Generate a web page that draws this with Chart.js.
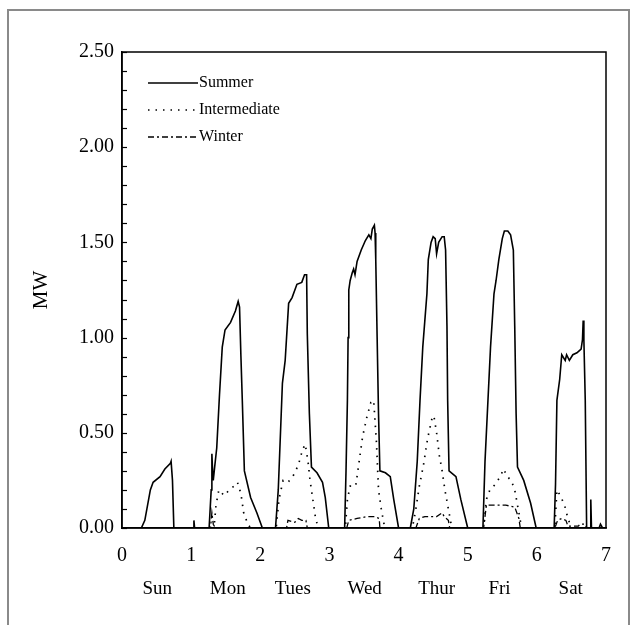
<!DOCTYPE html>
<html>
<head>
<meta charset="utf-8">
<script src="https://cdn.jsdelivr.net/npm/chart.js@4.4.1/dist/chart.umd.min.js"></script>
<style>
html,body{margin:0;padding:0;background:#fff;}
canvas{display:block;}
</style>
</head>
<body>
<canvas id="c" width="632" height="625"></canvas>
<script>
// ---- data (x in days from Sunday 0:00, y in MW) ----
const yTickLabels = ["0.00", "0.50", "1.00", "1.50", "2.00", "2.50"];
const xTickLabels = ["0", "1", "2", "3", "4", "5", "6", "7"];
const dayNames = ["Sun", "Mon", "Tues", "Wed", "Thur", "Fri", "Sat"];
const dayPos = [0.51, 1.53, 2.47, 3.51, 4.55, 5.46, 6.49];
const seriesNames = ["Summer", "Intermediate", "Winter"];

const summerX = [0, 0.28, 0.33, 0.41, 0.45, 0.55, 0.62, 0.70, 0.71, 0.73, 0.75,
  1.03, 1.04, 1.05,
  1.26, 1.29, 1.30, 1.31, 1.32, 1.34, 1.37, 1.41, 1.45, 1.49, 1.57, 1.64, 1.68, 1.70, 1.72, 1.74, 1.77, 1.86, 1.95, 2.03,
  2.22, 2.26, 2.32, 2.36, 2.41, 2.46, 2.53, 2.60, 2.64, 2.67, 2.68, 2.71, 2.74, 2.82, 2.90, 2.94, 2.99,
  3.22, 3.24, 3.26, 3.27, 3.28, 3.30, 3.33, 3.35, 3.37, 3.40, 3.46, 3.52, 3.57, 3.60, 3.62, 3.65, 3.66, 3.67, 3.69, 3.71, 3.73, 3.81, 3.88, 3.93, 4.00,
  4.17, 4.22, 4.27, 4.31, 4.35, 4.41, 4.43, 4.47, 4.50, 4.53, 4.55, 4.58, 4.63, 4.66, 4.68, 4.70, 4.71, 4.73, 4.83, 4.90, 5.00,
  5.22, 5.25, 5.29, 5.33, 5.38, 5.41, 5.45, 5.50, 5.53, 5.58, 5.62, 5.66, 5.68, 5.70, 5.72, 5.81, 5.91, 5.99,
  6.25, 6.27, 6.29, 6.33, 6.36, 6.41, 6.43, 6.47, 6.52, 6.58, 6.64, 6.66, 6.67, 6.68, 6.70, 6.72, 6.77, 6.78, 6.79, 6.90, 6.92, 6.95, 7.00];
const summerY = [0, 0, 0.04, 0.20, 0.24, 0.27, 0.31, 0.34, 0.35, 0.25, 0,
  0, 0.04, 0,
  0, 0.20, 0.39, 0.30, 0.25, 0.32, 0.42, 0.70, 0.95, 1.04, 1.08, 1.14, 1.19, 1.16, 0.90, 0.67, 0.30, 0.16, 0.08, 0,
  0, 0.20, 0.76, 0.88, 1.18, 1.21, 1.28, 1.29, 1.33, 1.33, 1.02, 0.60, 0.32, 0.29, 0.24, 0.16, 0,
  0, 0.30, 0.67, 1.00, 1.25, 1.30, 1.34, 1.36, 1.33, 1.40, 1.46, 1.51, 1.54, 1.52, 1.57, 1.59, 1.55, 1.41, 1.00, 0.60, 0.30, 0.29, 0.27, 0.15, 0,
  0, 0.10, 0.35, 0.67, 0.95, 1.23, 1.41, 1.50, 1.53, 1.52, 1.44, 1.50, 1.53, 1.53, 1.46, 1.06, 0.67, 0.30, 0.27, 0.15, 0,
  0, 0.35, 0.65, 0.95, 1.23, 1.30, 1.41, 1.52, 1.56, 1.56, 1.54, 1.46, 1.06, 0.60, 0.32, 0.25, 0.13, 0,
  0, 0.23, 0.67, 0.78, 0.91, 0.88, 0.91, 0.88, 0.91, 0.92, 0.94, 0.99, 1.09, 0.99, 0.67, 0, 0, 0.15, 0, 0, 0.02, 0, 0];

const interX = [0, 1.33, 1.36, 1.40, 1.48, 1.55, 1.62, 1.67, 1.72, 1.76, 1.82, 1.86,
  2.23, 2.27, 2.33, 2.40, 2.47, 2.55, 2.61, 2.65, 2.69, 2.72, 2.76, 2.80, 2.84,
  3.23, 3.26, 3.30, 3.38, 3.43, 3.48, 3.54, 3.60, 3.64, 3.68, 3.71, 3.75, 3.80,
  4.20, 4.25, 4.30, 4.36, 4.42, 4.48, 4.51, 4.55, 4.59, 4.63, 4.67, 4.72, 4.77,
  5.23, 5.27, 5.32, 5.40, 5.47, 5.52, 5.57, 5.63, 5.68, 5.73, 5.78,
  6.26, 6.29, 6.34, 6.40, 6.45, 6.50, 7.00];
const interY = [0, 0, 0.12, 0.20, 0.17, 0.20, 0.22, 0.24, 0.18, 0.08, 0.02, 0,
  0, 0.15, 0.25, 0.24, 0.27, 0.33, 0.41, 0.44, 0.35, 0.25, 0.15, 0.05, 0,
  0, 0.15, 0.22, 0.22, 0.35, 0.48, 0.58, 0.66, 0.67, 0.45, 0.20, 0.10, 0,
  0, 0.10, 0.22, 0.33, 0.47, 0.57, 0.59, 0.50, 0.38, 0.30, 0.20, 0.10, 0,
  0, 0.15, 0.20, 0.23, 0.27, 0.31, 0.27, 0.25, 0.20, 0.10, 0,
  0, 0.20, 0.17, 0.12, 0.05, 0, 0];

const winterX = [0, 1.28, 1.30, 1.32, 1.35,
  2.38, 2.40, 2.50, 2.55, 2.60, 2.66, 2.68,
  3.25, 3.28, 3.40, 3.55, 3.65, 3.72, 3.73,
  4.25, 4.30, 4.38, 4.55, 4.63, 4.66, 4.72, 4.74,
  5.23, 5.27, 5.40, 5.55, 5.68, 5.74, 5.76,
  6.26, 6.30, 6.36, 6.42, 6.45, 6.60, 6.62, 6.70, 6.72, 7.00];
const winterY = [0, 0, 0.08, 0.02, 0,
  0, 0.04, 0.03, 0.05, 0.04, 0.04, 0,
  0, 0.04, 0.05, 0.06, 0.06, 0.05, 0,
  0, 0.05, 0.06, 0.06, 0.08, 0.06, 0.04, 0,
  0, 0.12, 0.12, 0.12, 0.11, 0.05, 0,
  0, 0.04, 0.05, 0.04, 0.01, 0.01, 0.02, 0.02, 0, 0];

// ---- chart ----
const FONT = "'Liberation Serif', 'Times New Roman', serif";
const INK = '#000';
const toPts = (xs, ys) => xs.map((x, i) => ({x: x, y: ys[i]}));

const styles = [
  {dash: [], width: 1.6},
  {dash: [1.5, 6], width: 1.7},
  {dash: [6, 3, 2, 3], width: 1.3}
];

const decor = {
  id: 'decor',
  afterDraw(chart) {
    const ctx = chart.ctx;
    const a = chart.chartArea;
    const ys = chart.scales.y;
    ctx.save();
    // plot frame
    ctx.strokeStyle = INK;
    ctx.lineWidth = 1.5;
    ctx.setLineDash([]);
    ctx.strokeRect(a.left, a.top, a.right - a.left, a.bottom - a.top);
    // inward minor/major ticks on y axis
    ctx.lineWidth = 1.2;
    ys.ticks.forEach(t => {
      const py = Math.round(ys.getPixelForValue(t.value)) + 0.5;
      ctx.beginPath();
      ctx.moveTo(a.left, py);
      ctx.lineTo(a.left + 5, py);
      ctx.stroke();
    });
    // legend inside plot
    const legY = [83, 110, 137];
    ctx.font = "16px " + FONT;
    ctx.fillStyle = INK;
    ctx.textBaseline = 'middle';
    ctx.textAlign = 'left';
    seriesNames.forEach((n, i) => {
      ctx.lineWidth = styles[i].width;
      ctx.setLineDash(styles[i].dash);
      ctx.beginPath();
      ctx.moveTo(148, legY[i]);
      ctx.lineTo(198, legY[i]);
      ctx.stroke();
      ctx.setLineDash([]);
      ctx.fillText(n, 199, legY[i]);
    });
    // outer page frame
    ctx.strokeStyle = '#8a8a8a';
    ctx.lineWidth = 2;
    ctx.strokeRect(8, 10, 621, 640);
    ctx.restore();
  }
};

new Chart(document.getElementById('c'), {
  type: 'line',
  data: {
    datasets: [
      {label: seriesNames[0], data: toPts(summerX, summerY), borderColor: INK, borderWidth: styles[0].width, borderDash: styles[0].dash},
      {label: seriesNames[1], data: toPts(interX, interY), borderColor: INK, borderWidth: styles[1].width, borderDash: styles[1].dash},
      {label: seriesNames[2], data: toPts(winterX, winterY), borderColor: INK, borderWidth: styles[2].width, borderDash: styles[2].dash}
    ]
  },
  options: {
    responsive: false,
    animation: false,
    events: [],
    devicePixelRatio: 1,
    elements: {point: {radius: 0}, line: {tension: 0}},
    layout: {padding: {left: 0, right: 26, top: 52, bottom: 0}},
    plugins: {legend: {display: false}, tooltip: {enabled: false}, title: {display: false}},
    scales: {
      x: {
        type: 'linear', position: 'bottom', min: 0, max: 7, weight: 0,
        grid: {display: false, drawTicks: false},
        border: {display: true, color: INK, width: 1.5},
        ticks: {
          stepSize: 1, autoSkip: false, maxRotation: 0, padding: 16,
          color: INK, font: {family: FONT, size: 20},
          callback: (v) => xTickLabels[Math.round(v)]
        },
        afterFit: (s) => { s.height = 45; }
      },
      x2: {
        type: 'linear', position: 'bottom', min: 0, max: 7, weight: 1,
        grid: {display: false, drawTicks: false},
        border: {display: false},
        afterBuildTicks: (s) => { s.ticks = dayPos.map(v => ({value: v})); },
        ticks: {
          autoSkip: false, maxRotation: 0, padding: 5,
          color: INK, font: {family: FONT, size: 19},
          callback: (v, i) => dayNames[i]
        },
        afterFit: (s) => { s.height = 52; }
      },
      y: {
        type: 'linear', min: 0, max: 2.5,
        grid: {display: false, drawTicks: false},
        border: {display: true, color: INK, width: 1.5},
        title: {display: true, text: 'MW', color: INK, font: {family: FONT, size: 21}, padding: {top: 29, bottom: 0}},
        ticks: {
          stepSize: 0.1, autoSkip: false, padding: 8,
          color: INK, font: {family: FONT, size: 20},
          callback: (v) => {
            const k = Math.round(v * 2);
            return Math.abs(v * 2 - k) < 1e-6 ? yTickLabels[k] : '';
          }
        },
        afterFit: (s) => { s.width = 122; }
      }
    }
  },
  plugins: [decor]
});
</script>
</body>
</html>
